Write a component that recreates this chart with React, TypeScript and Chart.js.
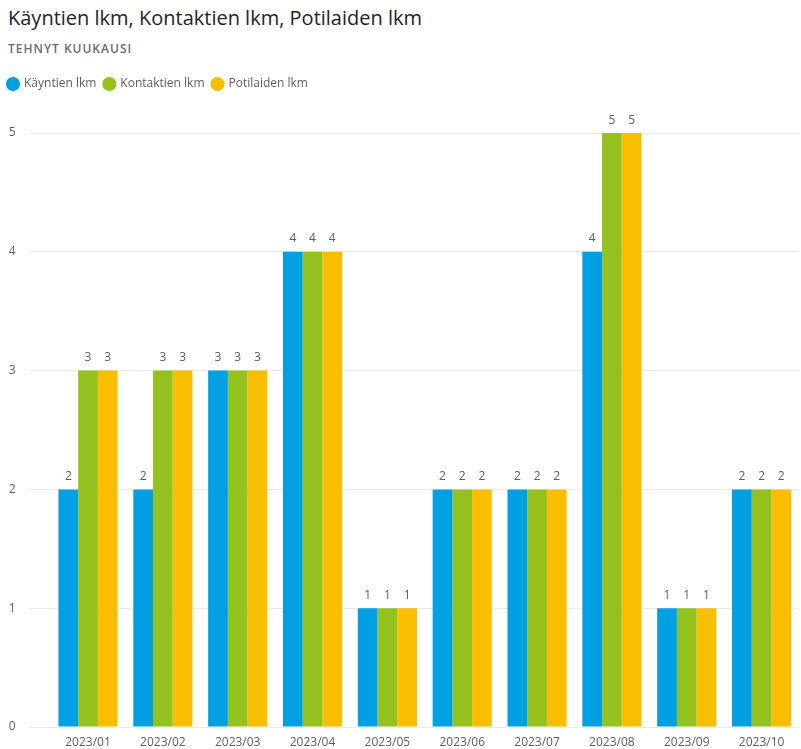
import React, { useEffect, useRef } from "react";
import { Chart, registerables } from "chart.js";

Chart.register(...registerables);

const categories = ["2023/01", "2023/02", "2023/03", "2023/04", "2023/05", "2023/06", "2023/07", "2023/08", "2023/09", "2023/10"];
const kayntienLkm = [2, 2, 3, 4, 1, 2, 2, 4, 1, 2];
const kontaktienLkm = [3, 3, 3, 4, 1, 2, 2, 5, 1, 2];
const potilaidenLkm = [3, 3, 3, 4, 1, 2, 2, 5, 1, 2];
const yTicks = [0, 1, 2, 3, 4, 5];

const FONT = "'Segoe UI', 'Open Sans', 'Noto Sans', sans-serif";
const GRAY = "#605E5C";

const dataLabels = {
  id: "dataLabels",
  afterDatasetsDraw(chart: any) {
    const ctx = chart.ctx;
    ctx.save();
    ctx.font = `12px ${FONT}`;
    ctx.fillStyle = GRAY;
    ctx.textAlign = "center";
    ctx.textBaseline = "alphabetic";
    chart.data.datasets.forEach((ds: any, i: number) => {
      const meta = chart.getDatasetMeta(i);
      meta.data.forEach((el: any, j: number) => {
        ctx.fillText(String(ds.data[j]), el.x, el.y - 9.5);
      });
    });
    ctx.restore();
  },
};

export default function App() {
  const ref = useRef<HTMLCanvasElement>(null);
  useEffect(() => {
    if (!ref.current) return;
    const chart = new Chart(ref.current, {
      type: "bar",
      data: {
        labels: categories,
        datasets: [
          { label: "Käyntien lkm", data: kayntienLkm, backgroundColor: "#01A0E2", xAxisID: "x", yAxisID: "y" },
          { label: "Kontaktien lkm", data: kontaktienLkm, backgroundColor: "#95C11F", xAxisID: "x", yAxisID: "y" },
          { label: "Potilaiden lkm", data: potilaidenLkm, backgroundColor: "#F9BE00", xAxisID: "x", yAxisID: "y" },
        ],
      },
      options: {
        animation: false,
        responsive: false,
        maintainAspectRatio: false,
        layout: { padding: { top: 10, left: 0, right: 2, bottom: 0 } },
        datasets: { bar: { categoryPercentage: 0.79, barPercentage: 1 } },
        plugins: {
          title: { display: false },
          tooltip: { enabled: false },
          legend: {
            display: true,
            position: "top",
            align: "start",
            labels: {
              usePointStyle: true,
              pointStyle: "circle",
              boxWidth: 10,
              boxHeight: 10,
              padding: 8,
              color: GRAY,
              font: { family: FONT, size: 12 },
            },
          },
        },
        scales: {
          x: {
            type: "category",
            position: "bottom",
            grid: { display: false, drawTicks: false },
            border: { display: false },
            ticks: { color: GRAY, font: { family: FONT, size: 12 }, padding: 8, maxRotation: 0 },
            afterFit: (s: any) => { s.height = 22; },
          },
          xTop: {
            type: "category",
            position: "top",
            display: true,
            grid: { display: false, drawTicks: false },
            border: { display: false },
            ticks: { display: false },
            afterFit: (s: any) => { s.height = 33; },
          },
          y: {
            type: "linear",
            position: "left",
            min: 0,
            max: 5,
            afterBuildTicks: (s: any) => { s.ticks = yTicks.map((v) => ({ value: v })); },
            grid: { color: "#EAEAEA", lineWidth: 1, drawTicks: true, tickLength: 21, tickColor: "#EAEAEA" },
            border: { display: false },
            ticks: { color: GRAY, font: { family: FONT, size: 12 }, padding: 14 },
            afterFit: (s: any) => { s.width = 50.6; },
          },
        },
      },
      plugins: [dataLabels],
    } as any);
    return () => chart.destroy();
  }, []);

  return (
    <div style={{ position: "absolute", left: 0, top: 0, width: 801, height: 749, background: "#fff", overflow: "hidden" }}>
      <div style={{ position: "absolute", left: 8, top: 4, fontFamily: FONT, fontSize: 20, color: "#252423", whiteSpace: "nowrap", lineHeight: "28px" }}>
        Käyntien lkm, Kontaktien lkm, Potilaiden lkm
      </div>
      <div style={{ position: "absolute", left: 8, top: 41, fontFamily: FONT, fontSize: 12, fontWeight: 600, color: "#6B6A68", letterSpacing: 1, whiteSpace: "nowrap", lineHeight: "16px" }}>
        TEHNYT KUUKAUSI
      </div>
      <canvas ref={ref} width={801} height={689} style={{ position: "absolute", left: 0, top: 60, width: 801, height: 689 }} />
    </div>
  );
}
